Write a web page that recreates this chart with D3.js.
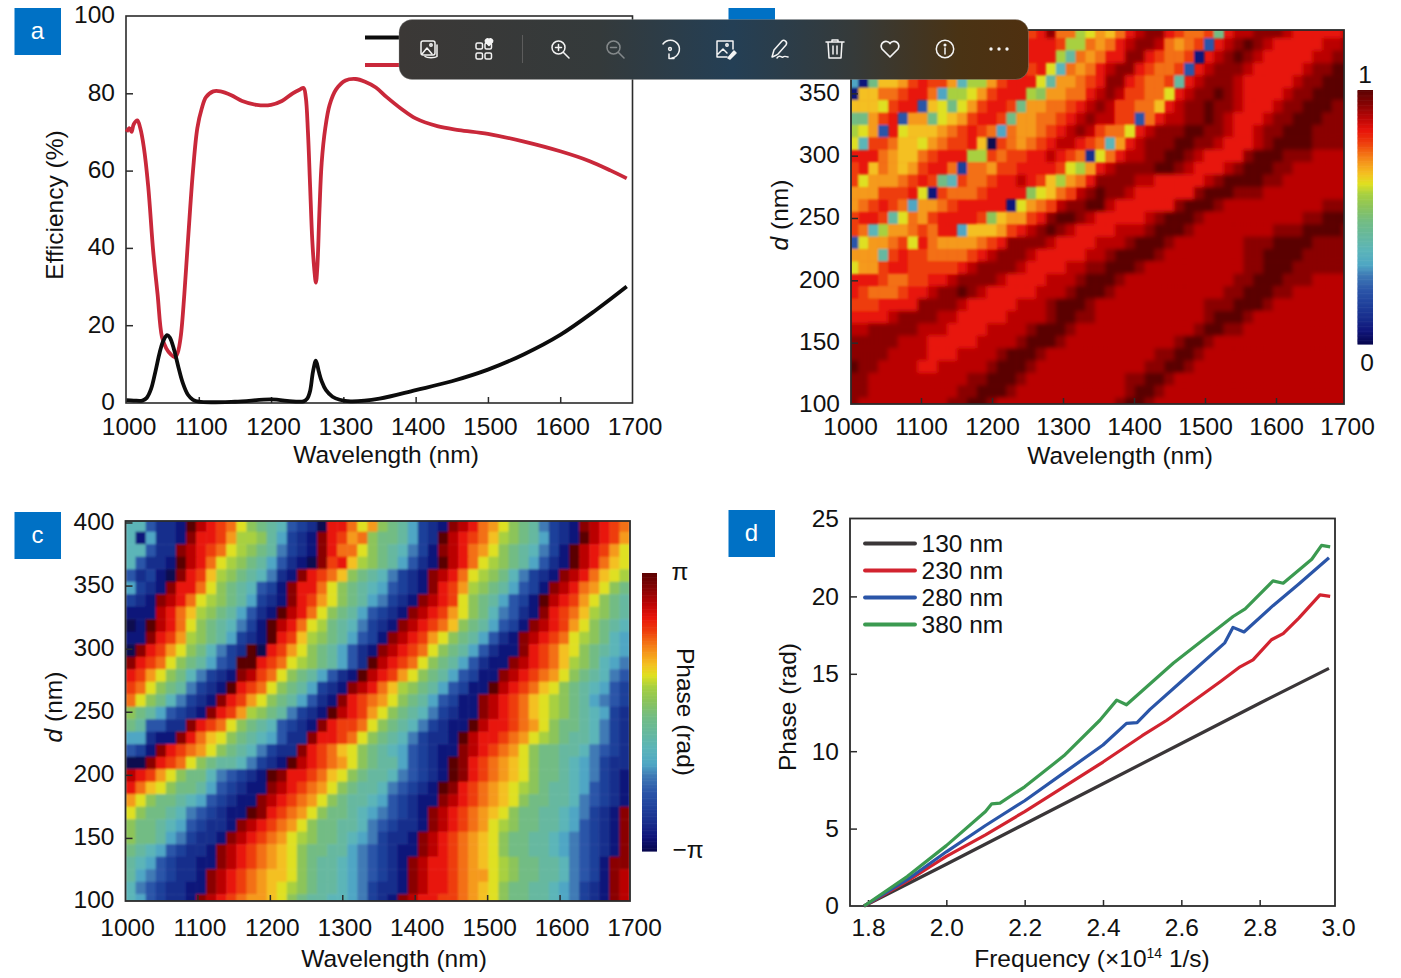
<!DOCTYPE html>
<html><head><meta charset="utf-8">
<script src="https://d3js.org/d3.v7.min.js"></script>
<style>html,body{margin:0;padding:0;background:#fff}svg{display:block}text{font-family:"Liberation Sans",Arial,sans-serif;fill:#111}</style>
</head><body><svg id="c" width="1401" height="978"></svg>
<script>
// ---------- panel a ----------
const aRedNm=[1000,1004,1007,1010,1015,1019,1024,1030,1037,1043,1049,1055,1061,1067,1071,1075,1080,1084,1088,1092,1098,1104,1110,1120,1130,1145,1160,1180,1200,1215,1230,1240,1245,1248,1251,1254,1257,1260,1262,1264,1267,1270,1275,1281,1290,1303,1317,1330,1345,1360,1380,1400,1430,1460,1500,1550,1600,1640,1670,1692];
const aRedEff=[70,71,70,72,73,71,66,56,39,28,17,14,12.5,11.7,13,17,28,39,50,60,71,76,79,80.5,80.5,79.5,78,77,77,78,80,81,81.4,79,70,56,42,34,31,35,50,62,71,77,81,83.3,83.7,83,81.5,79,76,73.5,71.5,70.5,69.5,67.5,65,62.5,60,58];
const aBlackNm=[1000,1010,1022,1028,1034,1040,1046,1051,1056,1060,1066,1072,1078,1085,1092,1100,1150,1200,1230,1245,1250,1254,1258,1262,1266,1270,1276,1285,1295,1310,1350,1400,1450,1500,1550,1600,1650,1692];
const aBlackEff=[.6,.5,.5,1.2,3.5,8,13,16,17.4,16.8,13.5,9,5,2,.7,.2,.2,.8,.3,.3,1,3,8,10.8,8,5.5,3.2,1.5,.7,.3,1,3.2,5.5,8.5,12.5,17.5,24,30];
const aXTicks=[1000,1100,1200,1300,1400,1500,1600,1700];
const aYTicks=[0,20,40,60,80,100];

// ---------- panel b (efficiency map, one string per d row, top = 400 nm) ----------
const heatD=d3.range(400,99,-10);
const bRows=[
"hgfeedgghh gfcbcdghgh jffbcedfhi jjhgffg9hi ijjjihhhhh i",
"hggfecghhg fdcbdfghhh hgbbfefhij jifefg4hij kjihhhhhii j",
"ggfddfghgg ecbcefhhhh hb8fefhhjj hgffg1hijk jihhhhhiij j",
"fgfdcefghg fedbcdfhgh c7fefhijjh gffg4hijjj ihhhhhijjk k",
"619ddeghgg e7bbeghhhc 8eefghjjhg ffg8hijjji hhhhhijjkk k",
"1ddffghhf6 bbceghhhba eeffhijigg ffchijjkji hhhhijjkkk k",
"dddcghh4dc 9ceghhg9ee ffghijiggf fdhijjkjji hhhijjkkkj j",
"99egh4ee9c deghhg9eef fghijiigg4 fhiijjkjih hhijjkkkjj j",
"bce4hcddde fghgf6feef ghijigffch ijjjkkjjih hijjkkkjjj j",
"c7ggfddcef gghd0gfefg hiihgf7ehi jjjkkjjihh hijkkkkjjj j",
"hhhfeddfgh hhbbgfgghh ihgf2cfhii jjkkjihhhh jkkkjjjiii i",
"ghdfedeghh f3ffegghhh hgcbehijjj jkkjihhhij kkkjjiiiii i",
"gceeefghg9 7gffghhihg dbefhjjjji ihhhhhijkk kkjjiiiiii i",
"eeeggghc1g fffghhhhac dfgijkjjih hhhhhjkkkj jjiiiiiiii i",
"efghgf6eef ghhhhh1cef gijjkkihhh hhhjkkkjii iiiiiiiijj j",
"ghhg8cfegh hhhgadeegh jkkjihhhhh ijkkkjiiii iiiiiijjkk k",
"gf7beefgfh h6dddeghij kjihhhhiii jkkkjiiiii iiijjjkkkk j",
"4ceefgchfe eeefghjjjj ihhhhiiijk kkjiiiiiii jjjkkkkjjj j",
"eee8ghggff ffghijjjih hhhhiijkkk kjiiiiiiii jjkkkkjjjj j",
"ceeghhgggg ghijjjjihh hhiijjkkkj iiiiiiiiii jjkkkjjjjj j",
"hhhgffgghh ijjjjihhhh iiijkkkjii iiiiiiiiij jkkkjjjiii i",
"hgfffghhij jkjihhhhhi iijkkkjiii iiiiiiiijj kkkjjiiiii i",
"ggghhhhjjj jihhhhhiii jkkkjiiiii iiiiiijjjk kkjiiiiiii i",
"hhhhijjjji ihhhhhiiii jkkjjiiiii iiiiiijkkk jiiiiiiiii i",
"iijjjjjiii hhhhiiiijk kkjiiiiiii iiiiijkkjj iiiiiiiiii i",
"jjjjjiiihh hhhiiiijkk kjiiiiiiii iiijkkjiii iiiiiiiiii i",
"jjjjiiiihh hiiiijkkkj iiiiiiiiii ijjkkjiiii iiiiiiiiii i",
"kjjiiiihhi iiiijkkkji iiiiiiiiii jjkkjiiiii iiiiiiiiii i",
"jjiiiiiiii iijjkkkjii iiiiiiiijj kkjiiiiiii iiiiiiiiii i",
"jjiiiiiiii ijjkkkjiii iiiiiiiijk kjiiiiiiii iiiiiiiiii i",
"jiiiiiiiii jjkkjiiiii iiiiiiijkk jiiiiiiiii iiiiiiiiii i"];

// ---------- panel c (phase map) ----------
const cRows=[
"77422 1kihg fca98 74320 hhfce a9863 21jih feca9 85321 jihgf",
"71622 1jhhg ebba8 6321j hgefa 99863 2kihg fdba9 86321 kihge",
"77422 jihgf cba98 5321j hffca 98753 1jihf eca98 7531k ihgec",
"74221 kihfc ba986 4210j ghdba 98642 1kihf cba98 6421k ihfdc",
"42310 jhgdb a9875 21jhg fda98 75321 jihfc ba975 321ji hfdcb",
"6321j hhfca 98743 1jhhf ca987 64321 jhgeb a9864 31jih feca9",
"321ji hfcba 98632 1jhge ca986 5321j ihgca 98643 1kihg eca98",
"111ih fdba9 86421 kihfc a9864 321ji hgeca 97542 1jhgf dba98",
"01kih fca98 7531k ihfcb 98753 21jih gfda9 86431 jihge ca987",
"11jhg eba98 6321k hgdba 98643 1jihg eca98 6421j ihgfc ba976",
"0jhge ca975 32k0h geca9 86421 jihgf ca986 4211j hgfdc a9876",
"jhgfc a9864 3kkhg fcba9 8642k ihgfc a9864 211ji hgfdb a9765",
"hgeca 97532 1jigf ca986 421ki hgeca 98643 11jih gfeca 98754",
"gfca9 85321 khgfc a9863 21jih fdba9 86431 1kihg fdca9 87643",
"fca97 5321j hgeca 98642 1jhgf eca98 64311 jihgf dcba9 86543",
"a9864 321jh geba9 85321 kihge ca987 53211 jihgf dcba9 87632",
"98442 2jhgf ca987 4321j hggfc a9875 3211k ihhgf eca99 87532",
"66211 jhfdc a9876 422jh hgfca 98753 221ki hhgfe cba98 87532",
"431jh gfeca 98753 22jhg fdca9 87643 211ji hgfec a9988 75432",
"00jhg fca98 87532 1kihg feca9 88643 21kjh gfedc a9987 65322",
"ihgec a9975 4321k jhhgf dca98 87543 21kjh gfedc a9987 65321",
"hfdca 99864 3211j ihgfe ca988 75432 1kjhg fedcb a9887 64321",
"eca99 87643 211ji hgfec a9887 64321 1jihg fedca 99887 54321",
"ca998 75432 11kjh gfeca 99876 54321 jihgf edca9 98876 5321j",
"a9987 64322 1jihg feca9 98875 43221 jihgf ecba9 98876 4321j",
"a9986 53221 jihgf ecba9 98765 3221j ihgfe dca99 88765 4321j",
"98764 3221j ihgfe dca99 88654 3211j ihgfe dca99 88765 4321j",
"87643 2211j ihgfe dca98 87654 321ji hhgfe dcba9 98875 431jj",
"86543 221ji hgfed dca98 87654 321ji hhgfe ecba9 98875 431ji",
"75432 211ji hgfed cba98 87653 221ji hhgfe dca99 88765 321ji",
"76432 21jih gfeed ca988 77653 21jih hggfe dca99 88765 321ji"];

// ---------- panel d ----------
const dSeries=[
 {name:"130 nm",color:"#3a3638",f:[1.79,2.0,2.2,2.4,2.6,2.8,2.977],p:[0,2.7,5.3,7.9,10.5,13.1,15.35]},
 {name:"230 nm",color:"#d2232f",f:[1.79,1.9,2.0,2.1,2.2,2.3,2.4,2.5,2.563,2.7,2.75,2.783,2.83,2.86,2.9,2.954,2.98],p:[0,1.6,3.2,4.6,6.1,7.7,9.3,11,12,14.5,15.45,15.9,17.2,17.6,18.6,20.1,20]},
 {name:"280 nm",color:"#2a55a8",f:[1.79,1.9,2.0,2.1,2.2,2.3,2.4,2.46,2.487,2.52,2.6,2.711,2.732,2.76,2.834,2.9,2.977],p:[0,1.7,3.5,5.2,6.8,8.6,10.4,11.8,11.85,12.7,14.5,17,18,17.7,19.4,20.8,22.5]},
 {name:"380 nm",color:"#3b9a50",f:[1.79,1.9,2.0,2.1,2.116,2.137,2.2,2.3,2.392,2.435,2.46,2.58,2.732,2.763,2.834,2.86,2.933,2.958,2.98],p:[0,1.9,3.9,6.1,6.6,6.65,7.7,9.7,12,13.3,13,15.7,18.7,19.2,21,20.85,22.4,23.3,23.2]}];
const dXTicks=[1.8,2.0,2.2,2.4,2.6,2.8,3.0];
const dYTicks=[0,5,10,15,20,25];

// ---------- colour map ----------
const mapPos=[0,.05,.1,.15,.21,.27,.31,.37,.42,.48,.54,.59,.63,.67,.71,.75,.79,.84,.89,.94,1];
const mapCol=["#08084f","#10157a","#182d8c","#1f3f9a","#2b55a8","#3f7ab5","#4fa6c4","#5cb5b8","#66b8a0","#72bc84","#8cc45a","#a8d040","#dfe020","#f4c020","#f59a1c","#f36f14","#ee3e0c","#e8140a","#ba0606","#8a0404","#5a0202"];
const cmap=d3.scaleLinear().domain(mapPos).range(mapCol);

const svg=d3.select("#c");
const defs=svg.append("defs");
[["soft",.85],["wide",2.1]].forEach(f=>defs.append("filter").attr("id",f[0]).attr("x","-5%").attr("y","-5%").attr("width","110%").attr("height","110%")
  .append("feGaussianBlur").attr("stdDeviation",f[1]));

const FS=24.5, FRAME="#2b2b2b";
function styleAxis(g,w){
  g.selectAll("path.domain").remove();
  g.selectAll("line").attr("stroke",FRAME).attr("stroke-width",w||1.5);
  g.selectAll("text").attr("font-size",FS).attr("fill","#111").style("font-family",'"Liberation Sans",Arial,sans-serif');
}
function frame(b,w){
  svg.append("rect").attr("x",b.l).attr("y",b.t).attr("width",b.r-b.l).attr("height",b.b-b.t)
    .attr("fill","none").attr("stroke",FRAME).attr("stroke-width",w||1.8);
}
function axes(b,x,y,xt,yt,opt){
  opt=opt||{};
  const gx=svg.append("g").attr("transform",`translate(0,${b.b})`)
    .call(d3.axisBottom(x).tickValues(xt).tickFormat(opt.xf||d3.format("d")).tickSizeInner(-6).tickSizeOuter(0))
    .call(styleAxis);
  gx.selectAll("text").attr("y",opt.xpad||15).attr("dx",opt.xdx||0);
  gx.selectAll(".tick").filter(v=>x(v)<=b.l+1||x(v)>=b.r-1).select("line").remove();
  const gy=svg.append("g").attr("transform",`translate(${b.l},0)`)
    .call(d3.axisLeft(y).tickValues(yt).tickFormat(opt.yf||d3.format("d")).tickSizeInner(-7).tickSizeOuter(0))
    .call(styleAxis);
  gy.selectAll("text").attr("x",-11).attr("dy",".32em").attr("y",opt.ydy||0);
  gy.selectAll(".tick").filter(v=>y(v)>=b.b-1||y(v)<=b.t+1).select("line").remove();
}
function label(txt,x,y,rot,anchor){
  const t=svg.append("text").attr("font-size",FS).attr("text-anchor",anchor||"middle")
    .attr("transform",`translate(${x},${y})`+(rot?` rotate(${rot})`:""));
  if(Array.isArray(txt)) txt.forEach(p=>{const s=t.append("tspan").text(p.t);
    if(p.i)s.attr("font-style","italic"); if(p.sup)s.attr("font-size",14).attr("dy",-9); if(p.after)s.attr("dy",9);});
  else t.text(txt);
  return t;
}
function heat(id,b,rows,cols,xBand,yBand,layered){
  defs.append("clipPath").attr("id",id).append("rect").attr("x",b.l).attr("y",b.t).attr("width",b.r-b.l).attr("height",b.b-b.t);
  const root=svg.append("g").attr("clip-path",`url(#${id})`);
  const parsed=rows.map(r=>r.replace(/ /g,""));
  const paint=(g,test,sub)=>parsed.forEach((r,ri)=>{
    g.selectAll(null).data(d3.range(cols).filter(j=>test(parseInt(r[j],36)))).join("rect")
      .attr("x",j=>xBand(j)).attr("y",yBand(heatD[ri]))
      .attr("width",xBand.bandwidth()+.5).attr("height",yBand.bandwidth()+.5)
      .attr("fill",j=>{const k=parseInt(r[j],36);return mapCol[sub?Math.max(k,17):k];});
  });
  if(layered){
    root.append("rect").attr("x",b.l).attr("y",b.t).attr("width",b.r-b.l).attr("height",b.b-b.t).attr("fill",mapCol[18]);
    paint(root.append("g").attr("filter","url(#wide)"),()=>true,true);
    paint(root.append("g").attr("filter","url(#soft)"),k=>k<17,false);
  } else {
    paint(root.append("g").attr("filter","url(#soft)"),()=>true,false);
  }
}
function colorbar(x0,x1,y0,y1){
  const s=d3.scaleLinear().domain([0,1]).range([y1,y0]);
  svg.append("g").selectAll("rect").data(d3.range(0,1,1/200)).join("rect")
    .attr("x",x0).attr("width",x1-x0).attr("y",v=>s(v+1/200)).attr("height",(y1-y0)/200+.6)
    .attr("fill",v=>cmap(v));
}
function tag(t,x,y){
  svg.append("rect").attr("x",x).attr("y",y).attr("width",46.5).attr("height",47).attr("fill","#0071c5");
  svg.append("text").attr("x",x+23).attr("y",y+31).attr("text-anchor","middle").attr("font-size",24).style("fill","#fff").text(t);
}

// ---- a ----
{
 const b={l:126,r:632.5,t:16,b:403};
 const x=d3.scaleLinear().domain([1000,1700]).range([126.5,632.5]);
 const y=d3.scaleLinear().domain([0,100]).range([402.5,16]);
 frame(b,1.6);
 axes(b,x,y,aXTicks,aYTicks,{xpad:15,xdx:2,ydy:-1});
 const ln=d3.line().x(d=>x(d[0])).y(d=>y(d[1])).curve(d3.curveCatmullRom.alpha(.5));
 svg.append("path").attr("d",ln(d3.zip(aRedNm,aRedEff))).attr("fill","none").attr("stroke","#c9283a").attr("stroke-width",3.8);
 svg.append("path").attr("d",ln(d3.zip(aBlackNm,aBlackEff))).attr("fill","none").attr("stroke","#0c0c0c").attr("stroke-width",3.8);
 svg.append("line").attr("x1",365).attr("x2",420).attr("y1",37.5).attr("y2",37.5).attr("stroke","#0c0c0c").attr("stroke-width",4);
 svg.append("line").attr("x1",365).attr("x2",420).attr("y1",65).attr("y2",65).attr("stroke","#c9283a").attr("stroke-width",4);
 label("Wavelength (nm)",386,463);
 label("Efficiency (%)",63,205,-90);
 tag("a",14.5,8);
}
// ---- b ----
{
 const b={l:851,r:1344,t:30,b:404};
 const x=d3.scaleLinear().domain([1000,1700]).range([850,1347]);
 const y=d3.scaleLinear().domain([100,400]).range([405,31]);
 const xb=d3.scaleBand().domain(d3.range(51)).range([848.5,848.5+51*9.87]);
 const yb=d3.scaleBand().domain(heatD).range([25.7,25.7+31*12.4]);
 heat("cb",b,bRows,51,xb,yb,true);
 frame(b);
 axes(b,x,y,aXTicks,[100,150,200,250,300,350],{xpad:14,ydy:-1});
 label("Wavelength (nm)",1120,464);
 label([{t:"d",i:1},{t:" (nm)"}],788,215,-90);
 colorbar(1357.5,1373,90,344);
 label("1",1365,83);
 label("0",1367,371);
 tag("b",728.5,8);
}
// ---- c ----
{
 const b={l:125.5,r:630,t:521,b:901};
 const x=d3.scaleLinear().domain([1000,1700]).range([125,632]);
 const y=d3.scaleLinear().domain([100,400]).range([901,522.5]);
 const xb=d3.scaleBand().domain(d3.range(50)).range([125.5,125.5+50*10.08]);
 const yb=d3.scaleBand().domain(heatD).range([519.2,519.2+31*12.5]);
 heat("cc",b,cRows,50,xb,yb,false);
 frame(b);
 axes(b,x,y,aXTicks,[100,150,200,250,300,350,400],{xpad:17.5,xdx:2,ydy:-1});
 label("Wavelength (nm)",394,967);
 label([{t:"d",i:1},{t:" (nm)"}],62,707,-90);
 colorbar(642,657,573,851);
 label("π",680,580);
 label("−π",688,858);
 label("Phase (rad)",677,712,90);
 tag("c",14.5,512);
}
// ---- d ----
{
 const b={l:850,r:1335,t:518.5,b:906};
 const x=d3.scaleLinear().domain([1.8,3.0]).range([868,1338]);
 const y=d3.scaleLinear().domain([0,25]).range([906,519]);
 frame(b);
 axes(b,x,y,dXTicks,dYTicks,{xpad:12.5,xf:d3.format(".1f")});
 const ln=d3.line().x(d=>x(d[0])).y(d=>y(d[1]));
 dSeries.forEach(s=>svg.append("path").attr("d",ln(d3.zip(s.f,s.p))).attr("fill","none").attr("stroke",s.color).attr("stroke-width",3.2).attr("stroke-linejoin","round"));
 const ly=d3.scalePoint().domain(dSeries.map(s=>s.name)).range([543.5,624.5]);
 dSeries.forEach(s=>{
  svg.append("line").attr("x1",865).attr("x2",915).attr("y1",ly(s.name)).attr("y2",ly(s.name)).attr("stroke",s.color).attr("stroke-width",3.8).attr("stroke-linecap","round");
  svg.append("text").attr("x",921.5).attr("y",ly(s.name)+8).attr("font-size",FS).text(s.name);
 });
 label([{t:"Frequency (×10"},{t:"14",sup:1},{t:" 1/s)",after:1}],1092,967);
 label("Phase (rad)",796,707,-90);
 tag("d",728.5,510);
}
// ---- viewer toolbar overlay ----
{
 const gr=defs.append("linearGradient").attr("id","tb").attr("gradientUnits","userSpaceOnUse").attr("x1",399).attr("x2",1028).attr("y1",0).attr("y2",0);
 [[0,"#3b3836"],[.32,"#343a3b"],[.53,"#243f55"],[.72,"#353a3a"],[.89,"#4a3314"],[1,"#4f3010"]].forEach(s=>gr.append("stop").attr("offset",s[0]).attr("stop-color",s[1]));
 svg.append("rect").attr("x",399).attr("y",19.5).attr("width",629.5).attr("height",60).attr("rx",13).attr("fill","url(#tb)").attr("stroke","#9a9a9a").attr("stroke-opacity",.35);
 const ic=(cx,op)=>svg.append("g").attr("transform",`translate(${cx},49)`).attr("fill","none").attr("stroke","#f4f4f4").attr("stroke-width",1.5).attr("stroke-linecap","round").attr("stroke-linejoin","round").attr("opacity",op||1);
 let g=ic(429); g.append("rect").attr("x",-8).attr("y",-8).attr("width",14).attr("height",14).attr("rx",2);
 g.append("path").attr("d","M-7 5L-2 -1L3 5M-4 7.5C-2 9 6 9 8 7.5V-4");g.append("circle").attr("cx",2).attr("cy",-4).attr("r",1.2);
 g=ic(484); [[-8,-3],[1,-3],[-8,4],[1,4]].forEach(p=>g.append("rect").attr("x",p[0]).attr("y",p[1]+(p[1]<0?-3:0)).attr("width",6.5).attr("height",6).attr("rx",1.5));
 g.append("path").attr("d","M5 -3.5L1.5 -7A2.2 2.2 0 0 1 5 -9.5A2.2 2.2 0 0 1 8.5 -7Z").attr("fill","#f4f4f4");
 svg.append("line").attr("x1",522.5).attr("x2",522.5).attr("y1",35).attr("y2",63).attr("stroke","#5c5c5c");
 g=ic(560); g.append("circle").attr("cx",-1.5).attr("cy",-1.5).attr("r",6.5); g.append("path").attr("d","M3.5 3.5L9 9M-4.5 -1.5H1.5M-1.5 -4.5V1.5");
 g=ic(615,.42); g.append("circle").attr("cx",-1.5).attr("cy",-1.5).attr("r",6.5); g.append("path").attr("d","M3.5 3.5L9 9M-4.5 -1.5H1.5");
 g=ic(670); g.append("path").attr("d","M-7 -5A9 9 0 1 1 2 9M-1 5V9.5H4"); g.append("circle").attr("cx",0).attr("cy",0).attr("r",1.4);
 g=ic(725); g.append("path").attr("d","M2 8H-8V-8H8V0M-7 5L-2 0L2 4"); g.append("circle").attr("cx",2).attr("cy",-4).attr("r",1.2); g.append("path").attr("d","M3 9L9 2L11 4L5 10Z").attr("fill","#f4f4f4");
 g=ic(780); g.append("path").attr("d","M-8 8L-6 1L2 -8C4 -10 8 -7 6 -4L-2 5C-4 7 -6 7 -8 8ZM-3 9C0 5 1 9 3 8C4 7 5 7 8 8");
 g=ic(835); g.append("path").attr("d","M-9 -7H9M-3 -7V-9H3V-7M-7 -7L-6 9H6L7 -7M-2 -3V5M2 -3V5");
 g=ic(890); g.append("path").attr("d","M0 8L-8 0A4.8 4.8 0 0 1 0 -5.5A4.8 4.8 0 0 1 8 0Z").attr("stroke-width",1.7);
 g=ic(945); g.append("circle").attr("r",8.7); g.append("path").attr("d","M0 -1V5"); g.append("circle").attr("cy",-4).attr("r",.8).attr("fill","#f4f4f4");
 g=ic(999); [-8,0,8].forEach(v=>g.append("circle").attr("cx",v).attr("r",1.7).attr("fill","#f4f4f4").attr("stroke","none"));
}
</script></body></html>
